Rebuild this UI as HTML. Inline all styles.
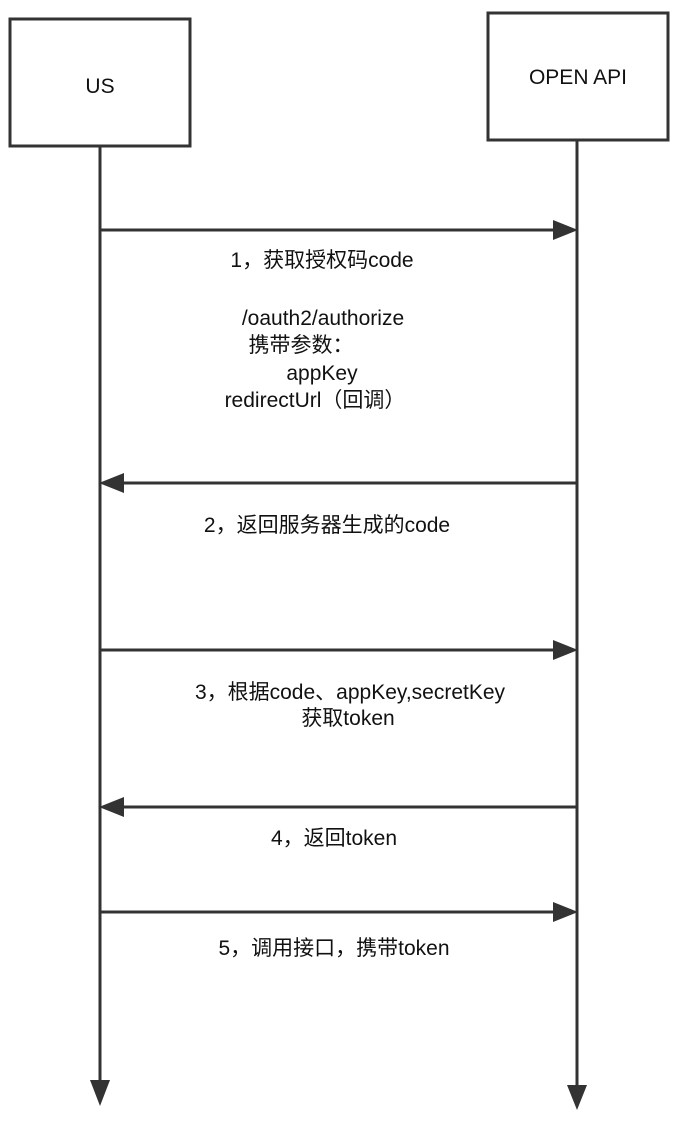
<!DOCTYPE html>
<html><head><meta charset="utf-8"><style>
html,body{margin:0;padding:0;background:#fff;}
svg{display:block;}
text{font-family:"Liberation Sans","Noto Sans CJK SC",sans-serif;font-size:21px;fill:#111;}
</style></head><body>
<svg width="682" height="1124" viewBox="0 0 682 1124" xmlns="http://www.w3.org/2000/svg">
<g fill="none" stroke="#333" stroke-width="3">
<rect x="10" y="19" width="180" height="127"/>
<rect x="488" y="13" width="180" height="127"/>
<line x1="100" y1="146" x2="100" y2="1085"/>
<line x1="577" y1="140" x2="577" y2="1088"/>
<line x1="100" y1="230" x2="555" y2="230"/>
<line x1="122" y1="483" x2="577" y2="483"/>
<line x1="100" y1="650" x2="555" y2="650"/>
<line x1="122" y1="807" x2="577" y2="807"/>
<line x1="100" y1="912" x2="555" y2="912"/>
</g>
<g fill="#333">
<polygon points="578,230 553,220 553,240"/>
<polygon points="99,483 124,473 124,493"/>
<polygon points="578,650 553,640 553,660"/>
<polygon points="99,807 124,797 124,817"/>
<polygon points="578,912 553,902 553,922"/>
<polygon points="100,1106 90,1080 110,1080"/>
<polygon points="577,1110 567,1085 587,1085"/>
</g>
<text x="100" y="93" text-anchor="middle">US</text>
<text x="578" y="84" text-anchor="middle">OPEN API</text>
<text x="322" y="267" text-anchor="middle">1，获取授权码code</text>
<text x="323" y="325" text-anchor="middle">/oauth2/authorize</text>
<text x="301" y="352" text-anchor="middle">携带参数：</text>
<text x="322" y="380" text-anchor="middle">appKey</text>
<text x="315" y="407" text-anchor="middle">redirectUrl（回调）</text>
<text x="327" y="532" text-anchor="middle">2，返回服务器生成的code</text>
<text x="350" y="699" text-anchor="middle">3，根据code、appKey,secretKey</text>
<text x="348" y="725" text-anchor="middle">获取token</text>
<text x="334" y="845" text-anchor="middle">4，返回token</text>
<text x="334" y="955" text-anchor="middle">5，调用接口，携带token</text>
</svg>
</body></html>
